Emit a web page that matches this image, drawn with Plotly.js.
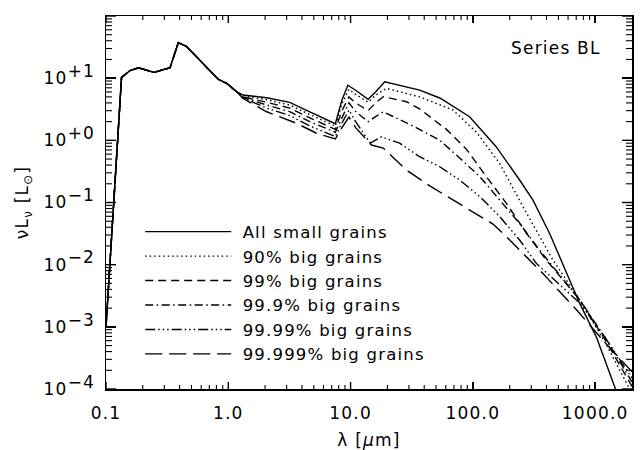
<!DOCTYPE html>
<html><head><meta charset="utf-8">
<script src="https://cdn.plot.ly/plotly-3.0.1.min.js"></script>
<style>
body{margin:0;background:#fff}
text{letter-spacing:1.2px}
</style>
</head><body>
<div id="chart" style="width:640px;height:450px"></div>
<script>
// shared UV/optical part (identical for all models)
const sharedLambda = [0.1, 0.134, 0.157, 0.184, 0.247, 0.334, 0.39, 0.451, 0.828, 0.969, 1.17];
const sharedFlux   = [1e-3, 10.3, 13.2, 14.7, 12.4, 14.7, 37.2, 32.9, 9.6, 8.27, 6.05];

const lambdaSmall = [1.32, 2.06, 3.18, 4.64, 6.98, 7.5, 8.5, 9.5, 11, 13.9, 16, 19, 36.7, 53.6, 94, 155, 241, 310, 424, 581, 747, 1021, 1439, 2000];
const fluxSmall   = [5.36, 4.84, 4.08, 2.88, 1.99, 1.85, 4.45, 7.7, 6.4, 4.57, 6.0, 8.77, 6.44, 4.8, 2.40, 0.79, 0.23, 0.109, 0.0318, 0.00724, 0.00238, 6.9e-4, 1.08e-4, 1.9e-5];

const lambda90 = [1.32, 2.06, 3.18, 4.64, 6.98, 7.5, 8.5, 9.7, 11, 13.9, 16, 19.6, 36.7, 68.8, 107, 166, 274, 451, 750, 1200, 2000];
const flux90   = [5.2, 4.5, 3.7, 2.6, 1.8, 1.7, 3.9, 6.6, 5.5, 4.1, 5.3, 6.87, 5.0, 3.07, 1.35, 0.42, 0.068, 0.0119, 0.0027, 5.7e-4, 8.5e-5];

const lambda99 = [1.32, 2.06, 3.18, 4.64, 6.98, 7.5, 8.5, 9.7, 11, 13.9, 16, 18.5, 28.6, 36.7, 60.7, 88.5, 129, 188, 274, 398, 750, 1200, 2000];
const flux99   = [5.0, 4.1, 3.3, 2.3, 1.6, 1.5, 3.0, 5.0, 4.0, 3.0, 4.0, 5.03, 4.18, 3.2, 1.5, 0.72, 0.26, 0.097, 0.032, 0.0119, 0.0027, 6.3e-4, 1.1e-4];

const lambda999 = [1.32, 2.06, 3.18, 4.64, 6.98, 7.5, 8.5, 9.7, 11, 13.9, 16, 18.5, 32.4, 53.6, 78, 114, 166, 241, 351, 750, 1200, 2000];
const flux999   = [4.9, 3.7, 2.9, 2.0, 1.4, 1.35, 2.3, 4.0, 2.9, 1.99, 2.4, 2.88, 1.7, 1.0, 0.52, 0.26, 0.109, 0.046, 0.0172, 0.0027, 6.8e-4, 1.3e-4];

const lambda9999 = [1.32, 2.06, 3.18, 4.64, 6.98, 7.5, 8.5, 9.7, 11, 14.5, 17.9, 25.2, 36.7, 53.6, 78, 114, 166, 241, 330, 750, 1200, 2000];
const flux9999   = [4.8, 3.3, 2.5, 1.7, 1.2, 1.15, 1.9, 3.07, 2.0, 0.9, 1.14, 0.9, 0.545, 0.376, 0.23, 0.124, 0.059, 0.0249, 0.0105, 0.0024, 6.8e-4, 1.5e-4];

const lambda99999 = [1.32, 2.06, 3.61, 5.27, 6.98, 7.5, 8.5, 9.7, 11, 14.8, 18.5, 28.6, 44.4, 68.8, 100, 146, 200, 274, 374, 700, 1200, 2000];
const flux99999   = [4.7, 2.88, 1.88, 1.30, 1.08, 1.05, 1.6, 2.37, 1.6, 0.84, 0.75, 0.333, 0.185, 0.11, 0.072, 0.045, 0.025, 0.0134, 0.0072, 0.0019, 5.6e-4, 1.9e-4];

const seriesNames = ['All small grains', '90% big grains', '99% big grains', '99.9% big grains', '99.99% big grains', '99.999% big grains'];
const seriesLambda = [lambdaSmall, lambda90, lambda99, lambda999, lambda9999, lambda99999];
const seriesFlux = [fluxSmall, flux90, flux99, flux999, flux9999, flux99999];
const dashes = ['solid', '1.5px,3px', '8px,5px', '8px,3.5px,1.5px,3.5px', '10px,3px,1.5px,3px,1.5px,3px,1.5px,3px', '17px,7px'];

const xTickVals = [0.1, 1, 10, 100, 1000];
const xTickText = ['0.1', '1.0', '10.0', '100.0', '1000.0'];
const yTickVals = [1e-4, 1e-3, 1e-2, 1e-1, 1, 10, 100];
const yTickExp = ['−4', '−3', '−2', '−1', '+0', '+1', '+2'];
const yTickText = yTickExp.map(e => '10<sup><span style="font-size:17px">' + e + '</span></sup>');
const minorDigits = [2, 3, 4, 5, 6, 7, 8, 9];

const xMinor = [];
xTickVals.forEach(v => minorDigits.forEach(k => { if (k * v < 2000) xMinor.push(k * v); }));
const yMinor = [];
yTickVals.slice(0, -1).forEach(v => minorDigits.forEach(k => yMinor.push(k * v)));

const traces = seriesNames.map((name, i) => ({
  x: sharedLambda.concat(seriesLambda[i]),
  y: sharedFlux.concat(seriesFlux[i]),
  name: '\u00A0' + name,
  type: 'scatter',
  mode: 'lines',
  line: {color: '#000', width: 1.4, dash: dashes[i]}
}));

const font = {family: 'DejaVu Sans, sans-serif', size: 17, color: '#000'};
const legendFont = {family: 'DejaVu Sans, sans-serif', size: 16.5, color: '#000'};

const layout = {
  width: 640, height: 450,
  margin: {l: 106, r: 8, t: 16, b: 61},
  paper_bgcolor: '#fff', plot_bgcolor: '#fff',
  font: font,
  showlegend: true,
  legend: {x: 0.065, y: 0.468, xanchor: 'left', yanchor: 'top', bgcolor: 'rgba(0,0,0,0)', borderwidth: 0, font: legendFont, itemwidth: 86, tracegroupgap: 0},
  xaxis: {
    type: 'log', range: [-1, Math.log10(2000)],
    showgrid: false, zeroline: false,
    showline: true, linecolor: '#000', linewidth: 1.5, mirror: 'ticks',
    ticks: 'inside', ticklen: 7, tickcolor: '#000', tickwidth: 1.4,
    tickmode: 'array', tickvals: xTickVals, ticktext: xTickText, tickfont: font,
    ticklabelstandoff: 8,
    title: {text: 'λ [<i>μ</i>m]', font: font, standoff: 12}
  },
  yaxis: {
    type: 'log', range: [-4, 2],
    showgrid: false, zeroline: false,
    showline: true, linecolor: '#000', linewidth: 1.5, mirror: 'ticks',
    ticks: 'inside', ticklen: 10, tickcolor: '#000', tickwidth: 1.4,
    tickmode: 'array', tickvals: yTickVals, ticktext: yTickText, tickfont: font,
    ticklabelstandoff: 6,
    title: {text: 'νL<sub>ν</sub> [L<sub>⊙</sub>]', font: font, standoff: 10}
  },
  annotations: [{
    text: 'Series BL', xref: 'paper', yref: 'paper', x: 0.945, y: 0.915,
    xanchor: 'right', yanchor: 'middle', showarrow: false, font: font
  }]
};

Plotly.newPlot('chart', traces, layout, {displayModeBar: false, staticPlot: true}).then(function(gd) {
  // tick marks on all four sides, placed through Plotly's own axis scales
  const xa = gd._fullLayout.xaxis, ya = gd._fullLayout.yaxis;
  const NS = 'http://www.w3.org/2000/svg';
  const svg = document.createElementNS(NS, 'svg');
  svg.setAttribute('width', '640');
  svg.setAttribute('height', '450');
  svg.style.cssText = 'position:absolute;left:0;top:0;pointer-events:none;z-index:10';
  const top = ya._offset, bottom = ya._offset + ya._length;
  const left = xa._offset, right = xa._offset + xa._length;
  function seg(x1, y1, x2, y2, w) {
    const l = document.createElementNS(NS, 'line');
    l.setAttribute('x1', x1); l.setAttribute('y1', y1);
    l.setAttribute('x2', x2); l.setAttribute('y2', y2);
    l.setAttribute('stroke', '#000'); l.setAttribute('stroke-width', w);
    svg.appendChild(l);
  }
  function xt(v, len, w) {
    const px = xa._offset + xa.l2p(Math.log10(v));
    seg(px, bottom, px, bottom - len, w);
    seg(px, top, px, top + len, w);
  }
  function yt(v, len, w) {
    const py = ya._offset + ya.l2p(Math.log10(v));
    seg(left, py, left + len, py, w);
    seg(right, py, right - len, py, w);
  }
  xTickVals.forEach(v => xt(v, 7, 1.4));
  xMinor.forEach(v => xt(v, 4, 1.1));
  yTickVals.forEach(v => yt(v, 10, 1.4));
  yMinor.forEach(v => yt(v, 6, 1.1));
  document.body.appendChild(svg);
});
</script>
</body></html>
